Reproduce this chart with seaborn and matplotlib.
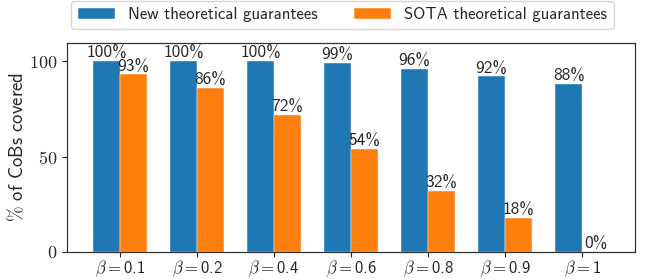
import pandas as pd
import matplotlib.pyplot as plt
import matplotlib.ticker as mticker
import seaborn as sns

betas = ["0.1", "0.2", "0.4", "0.6", "0.8", "0.9", "1"]
new_guarantees = [100, 100, 100, 99, 96, 92, 88]
sota_guarantees = [93, 86, 72, 54, 32, 18, 0]
series_names = ["New theoretical guarantees", "SOTA theoretical guarantees"]

sns.set_style("ticks")
plt.rcParams["font.family"] = ["cmss10", "DejaVu Sans"]
plt.rcParams["mathtext.fontset"] = "cm"
plt.rcParams["axes.formatter.use_mathtext"] = True
plt.rcParams["axes.unicode_minus"] = False

labels = [r"$\beta =$" + b for b in betas]
df = pd.DataFrame({
    "beta": labels * 2,
    "pct": new_guarantees + sota_guarantees,
    "kind": [series_names[0]] * len(betas) + [series_names[1]] * len(betas),
})

fig = plt.figure(figsize=(6.46, 2.79), dpi=100)
ax = fig.add_axes([0.1037, 0.0968, 0.8793, 0.7492])

sns.barplot(data=df, x="beta", y="pct", hue="kind", order=labels,
            hue_order=series_names, palette=["#1f77b4", "#ff7f0e"],
            width=0.7, saturation=1, edgecolor="white", linewidth=0.3, ax=ax)

for cont in ax.containers:
    ax.bar_label(cont, labels=[f"{v:.0f}%" for v in cont.datavalues],
                 padding=0, fontsize=12.5)

ax.set_ylim(0, 109.5)
ax.set_xlim(-0.685, 6.685)
ax.set_yticks([0, 50, 100])
ax.yaxis.set_major_formatter(mticker.FuncFormatter(lambda v, p: f"${v:.0f}$"))
ax.tick_params(axis="y", labelsize=13)
ax.tick_params(axis="x", labelsize=12, pad=1.5)
ax.set_xlabel("")
ax.set_ylabel(r"$\%$ of CoBs covered", fontsize=13.5, labelpad=1)
for s in ax.spines.values():
    s.set_color("#333333")
    s.set_linewidth(0.9)

sns.move_legend(ax, "lower center", bbox_to_anchor=(0.485, 1.067), ncol=2,
                title=None, frameon=True, fontsize=12, borderaxespad=0,
                columnspacing=2.2, handlelength=2.2)

fig.savefig("out.png", dpi=100)
